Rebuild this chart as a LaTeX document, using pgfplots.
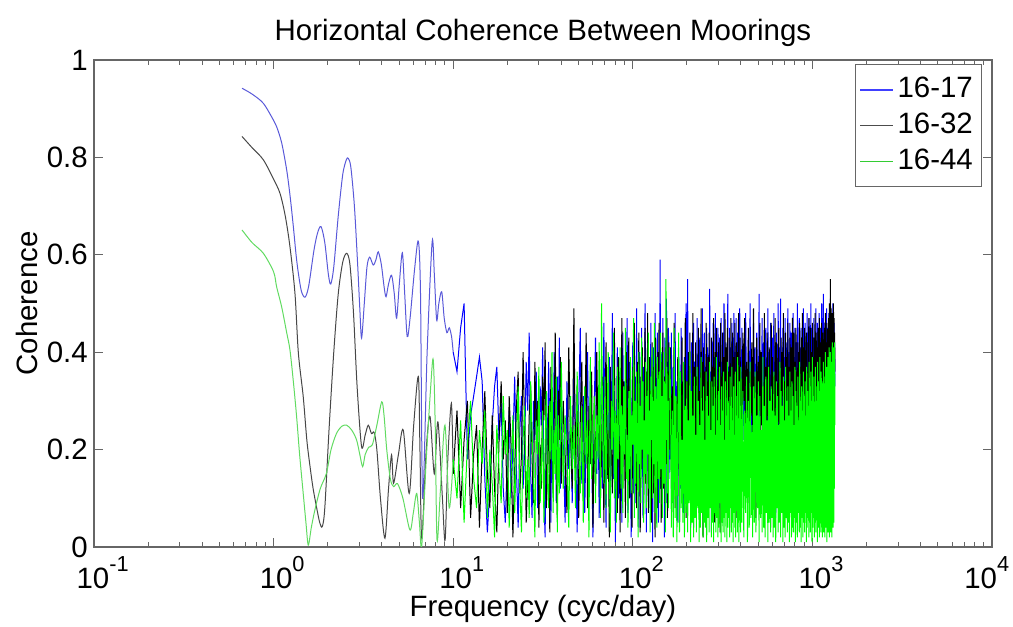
\documentclass[border=0pt]{standalone}
\usepackage{fontspec}
\setmainfont{Liberation Sans}
\usepackage{pgfplots}
\usepackage{pgfplotstable}
\pgfplotsset{compat=1.18}
\usetikzlibrary{calc}
\definecolor{sblue}{rgb}{0.35,0.35,0.85}
\definecolor{sblack}{rgb}{0.28,0.28,0.28}
\definecolor{sgreen}{rgb}{0.38,0.86,0.38}
\newcommand\tsup[1]{\raisebox{0.58em}{\fontsize{7.6}{8}\selectfont#1}}
\pgfplotstableread{
f b k g
10.0 0.40 0.15 0.18
10.5 0.36 0.28 0.10
11.0 0.45 0.08 0.26
11.5 0.50 0.22 0.05
12.0 0.18 0.30 0.21
12.5 0.27 0.06 0.30
13.0 0.31 0.19 0.14
13.5 0.35 0.25 0.08
14.0 0.39 0.04 0.24
14.5 0.34 0.20 0.17
15.0 0.14 0.32 0.28
15.5 0.03 0.15 0.06
16.0 0.12 0.08 0.20
16.5 0.25 0.27 0.13
17.0 0.33 0.12 0.02
17.5 0.37 0.03 0.25
18.0 0.22 0.22 0.16
18.5 0.30 0.34 0.09
19.0 0.12 0.18 0.31
19.5 0.05 0.26 0.19
20.0 0.18 0.07 0.24
20.5 0.28 0.31 0.04
21.0 0.10 0.21 0.15
21.5 0.21 0.02 0.27
22.0 0.35 0.16 0.07
22.5 0.16 0.29 0.20
23.0 0.04 0.36 0.33
23.5 0.24 0.11 0.12
24.0 0.31 0.19 0.03
24.5 0.12 0.40 0.22
25.0 0.20 0.24 0.29
25.5 0.38 0.05 0.10
26.0 0.28 0.14 0.18
26.5 0.44 0.27 0.06
27.0 0.15 0.33 0.34
27.5 0.06 0.18 0.23
28.0 0.30 0.09 0.14
28.5 0.22 0.38 0.02
29.0 0.36 0.23 0.26
29.5 0.08 0.30 0.19
30.0 0.17 0.04 0.37
30.5 0.33 0.21 0.09
31.0 0.25 0.12 0.16
31.5 0.41 0.35 0.28
32.0 0.10 0.26 0.05
32.5 0.02 0.42 0.21
33.0 0.28 0.08 0.32
33.5 0.19 0.17 0.13
34.0 0.38 0.29 0.08
34.5 0.24 0.03 0.30
35.0 0.05 0.37 0.18
35.5 0.31 0.20 0.40
36.0 0.14 0.11 0.07
36.5 0.40 0.25 0.24
37.0 0.27 0.44 0.15
37.5 0.09 0.16 0.35
38.0 0.35 0.06 0.03
38.5 0.20 0.32 0.27
39.0 0.43 0.22 0.11
39.5 0.12 0.39 0.22
40.0 0.29 0.13 0.38
41 0.21 0.30 0.12
42 0.05 0.18 0.27
43 0.34 0.07 0.19
44 0.16 0.41 0.04
45 0.27 0.23 0.31
46 0.09 0.12 0.16
47 0.38 0.49 0.25
48 0.22 0.15 0.08
49 0.03 0.33 0.36
50 0.29 0.06 0.21
51 0.45 0.26 0.11
52 0.13 0.38 0.29
53 0.31 0.10 0.05
54 0.07 0.21 0.33
55 0.24 0.44 0.17
56 0.40 0.08 0.26
57 0.11 0.29 0.02
58 0.35 0.17 0.39
59 0.19 0.36 0.14
60 0.02 0.04 0.23
61 0.28 0.25 0.31
62 0.43 0.13 0.09
63 0.15 0.40 0.27
64 0.33 0.22 0.18
65 0.06 0.31 0.42
66 0.25 0.09 0.06
67 0.37 0.19 0.50
68 0.12 0.35 0.22
69 0.46 0.05 0.13
70 0.20 0.28 0.35
71 0.04 0.42 0.08
72 0.30 0.14 0.26
73 0.17 0.24 0.40
74 0.39 0.02 0.15
75 0.08 0.37 0.03
76 0.26 0.20 0.30
77 0.48 0.11 0.20
78 0.14 0.32 0.44
79 0.32 0.45 0.10
80 0.01 0.16 0.28
81 0.23 0.27 0.05
82 0.41 0.07 0.37
83 0.10 0.39 0.18
84 0.36 0.23 0.24
85 0.18 0.03 0.41
86 0.27 0.30 0.12
87 0.05 0.47 0.29
88 0.44 0.12 0.07
89 0.21 0.34 0.33
90 0.34 0.21 0.19
91 0.12 0.06 0.45
92 0.29 0.40 0.14
93 0.47 0.18 0.23
94 0.07 0.28 0.04
95 0.24 0.43 0.32
96 0.38 0.10 0.16
97 0.16 0.33 0.39
98 0.02 0.25 0.11
99 0.31 0.04 0.27
100 0.42 0.37 0.21
101 0.11 0.22 0.47
102 0.26 0.46 0.06
103 0.35 0.14 0.30
104 0.09 0.29 0.13
105 0.49 0.08 0.36
106 0.19 0.38 0.24
107 0.30 0.19 0.02
108 0.04 0.44 0.40
109 0.40 0.26 0.17
110 0.22 0.03 0.29
111 0.14 0.35 0.09
112 0.45 0.16 0.43
113 0.28 0.41 0.20
114 0.06 0.23 0.34
115 0.37 0.09 0.05
116 0.17 0.31 0.26
117 0.50 0.45 0.15
118 0.25 0.13 0.38
119 0.03 0.36 0.08
120 0.33 0.20 0.31
121 0.43 0.48 0.19
122 0.13 0.07 0.44
123 0.27 0.27 0.12
124 0.39 0.39 0.28
125 0.08 0.15 0.03
126 0.46 0.32 0.35
127 0.20 0.05 0.22
128 0.32 0.42 0.41
129 0.01 0.24 0.10
130 0.41 0.11 0.30
131 0.23 0.37 0.17
132 0.15 0.28 0.46
133 0.48 0.02 0.07
134 0.29 0.43 0.33
135 0.10 0.18 0.21
136 0.36 0.30 0.04
137 0.44 0.08 0.39
138 0.18 0.40 0.25
139 0.05 0.25 0.14
140 0.34 0.46 0.36
141 0.25 0.14 0.09
142 0.59 0.33 0.28
143 0.12 0.21 0.44
144 0.40 0.05 0.16
145 0.28 0.38 0.31
146 0.07 0.27 0.06
147 0.47 0.44 0.24
148 0.21 0.12 0.40
149 0.35 0.35 0.13
150 0.02 0.23 0.34
151 0.43 0.09 0.19
152 0.16 0.41 0.03
153 0.31 0.29 0.55
154 0.51 0.17 0.22
155 0.09 0.47 0.37
156 0.38 0.06 0.11
157 0.24 0.36 0.30
158 0.45 0.26 0.08
159 0.14 0.42 0.27
160 0.30 0.20 0.41
162 0.18 0.41 0.33
164 0.44 0.12 0.04
166 0.09 0.33 0.28
168 0.37 0.20 0.02
170 0.22 0.46 0.45
172 0.48 0.08 0.06
174 0.15 0.30 0.31
176 0.34 0.17 0.01
178 0.05 0.39 0.24
180 0.41 0.24 0.44
182 0.26 0.05 0.03
184 0.12 0.36 0.36
186 0.45 0.14 0.08
188 0.20 0.43 0.22
190 0.33 0.10 0.05
192 0.07 0.28 0.38
194 0.39 0.19 0.02
196 0.24 0.47 0.29
198 0.50 0.06 0.07
200 0.16 0.34 0.34
202 0.55 0.21 0.03
204 0.11 0.40 0.26
206 0.36 0.13 0.09
208 0.27 0.44 0.40
210 0.04 0.09 0.01
212 0.42 0.31 0.32
214 0.19 0.22 0.05
216 0.30 0.48 0.27
218 0.46 0.04 0.02
220 0.13 0.37 0.35
222 0.38 0.18 0.06
224 0.23 0.42 0.23
226 0.08 0.11 0.03
228 0.47 0.35 0.37
230 0.17 0.26 0.08
232 0.35 0.45 0.30
234 0.28 0.07 0.01
236 0.43 0.32 0.25
238 0.10 0.23 0.04
240 0.40 0.49 0.39
242 0.21 0.15 0.07
244 0.49 0.38 0.28
246 0.14 0.02 0.02
248 0.32 0.41 0.33
250 0.44 0.20 0.05
252 0.06 0.36 0.22
254 0.37 0.12 0.04
256 0.25 0.46 0.36
258 0.45 0.27 0.01
260 0.18 0.08 0.31
262 0.41 0.39 0.06
264 0.29 0.17 0.27
266 0.12 0.44 0.03
268 0.53 0.24 0.38
270 0.20 0.34 0.08
272 0.36 0.10 0.24
274 0.03 0.43 0.02
276 0.42 0.21 0.34
278 0.26 0.37 0.05
280 0.46 0.13 0.29
282 0.15 0.47 0.01
284 0.39 0.28 0.35
286 0.23 0.05 0.07
288 0.48 0.40 0.23
290 0.11 0.19 0.03
292 0.34 0.45 0.39
294 0.40 0.09 0.06
296 0.19 0.33 0.26
298 0.45 0.25 0.02
300 0.27 0.42 0.32
302 0.08 0.16 0.04
304 0.43 0.38 0.37
306 0.31 0.03 0.09
308 0.16 0.46 0.25
310 0.47 0.22 0.01
312 0.22 0.35 0.33
314 0.38 0.11 0.05
316 0.05 0.44 0.28
318 0.44 0.27 0.03
320 0.29 0.07 0.36
322 0.50 0.39 0.06
324 0.17 0.18 0.22
326 0.35 0.48 0.02
328 0.24 0.30 0.34
330 0.42 0.12 0.07
332 0.13 0.41 0.27
334 0.39 0.24 0.01
336 0.26 0.45 0.38
338 0.52 0.08 0.04
340 0.20 0.36 0.30
342 0.37 0.20 0.06
344 0.09 0.43 0.24
346 0.45 0.15 0.02
348 0.30 0.37 0.35
350 0.18 0.26 0.08
352 0.41 0.47 0.29
354 0.25 0.04 0.03
356 0.46 0.32 0.37
358 0.14 0.22 0.05
360 0.36 0.44 0.26
362 0.43 0.10 0.01
364 0.21 0.39 0.33
366 0.48 0.28 0.07
368 0.11 0.13 0.23
370 0.33 0.46 0.04
372 0.40 0.19 0.36
374 0.23 0.35 0.02
376 0.47 0.06 0.31
378 0.16 0.42 0.08
380 0.38 0.25 0.27
382 0.28 0.40 0.03
384 0.44 0.14 0.39
386 0.07 0.33 0.05
388 0.35 0.48 0.25
390 0.42 0.21 0.01
392 0.19 0.37 0.34
394 0.49 0.09 0.06
396 0.26 0.43 0.29
398 0.39 0.27 0.03
400 0.15 0.36 0.37
405 0.45 0.18 0.05
410 0.22 0.44 0.32
415 0.40 0.30 0.02
420 0.12 0.47 0.28
425 0.48 0.14 0.07
430 0.30 0.38 0.35
435 0.17 0.24 0.01
440 0.43 0.45 0.30
445 0.26 0.09 0.04
450 0.50 0.36 0.38
455 0.20 0.27 0.06
460 0.37 0.42 0.25
465 0.09 0.16 0.02
470 0.46 0.49 0.33
475 0.28 0.22 0.05
480 0.41 0.35 0.36
485 0.15 0.06 0.03
490 0.44 0.43 0.27
495 0.33 0.19 0.08
500 0.24 0.38 0.34
505 0.52 0.28 0.01
510 0.18 0.46 0.31
515 0.39 0.12 0.06
520 0.27 0.40 0.24
525 0.47 0.25 0.03
530 0.13 0.33 0.39
535 0.42 0.17 0.04
540 0.31 0.48 0.29
545 0.21 0.08 0.02
550 0.45 0.37 0.35
555 0.36 0.23 0.07
560 0.10 0.44 0.26
565 0.49 0.30 0.01
570 0.25 0.15 0.37
575 0.40 0.41 0.05
580 0.19 0.27 0.30
585 0.46 0.04 0.03
590 0.32 0.46 0.33
595 0.14 0.21 0.06
600 0.43 0.39 0.28
605 0.29 0.13 0.02
610 0.48 0.35 0.36
615 0.22 0.26 0.04
620 0.38 0.47 0.27
625 0.06 0.18 0.01
630 0.44 0.42 0.34
635 0.34 0.29 0.08
640 0.23 0.10 0.31
645 0.50 0.38 0.03
650 0.17 0.45 0.25
655 0.41 0.20 0.05
660 0.30 0.36 0.38
665 0.51 0.24 0.02
670 0.20 0.43 0.32
675 0.37 0.14 0.07
680 0.27 0.40 0.29
685 0.45 0.31 0.01
690 0.12 0.48 0.35
695 0.39 0.07 0.04
700 0.33 0.34 0.26
705 0.47 0.22 0.02
710 0.24 0.44 0.37
715 0.42 0.28 0.06
720 0.18 0.39 0.30
725 0.36 0.12 0.03
730 0.49 0.46 0.33
735 0.28 0.25 0.05
740 0.40 0.37 0.27
745 0.15 0.18 0.01
750 0.46 0.43 0.36
755 0.31 0.30 0.07
760 0.21 0.09 0.28
765 0.44 0.41 0.02
770 0.35 0.26 0.34
775 0.09 0.47 0.04
780 0.48 0.33 0.31
785 0.26 0.16 0.03
790 0.39 0.44 0.25
795 0.30 0.23 0.06
800 0.45 0.38 0.37
805 0.19 0.05 0.01
810 0.42 0.45 0.32
815 0.34 0.29 0.05
820 0.23 0.36 0.29
825 0.50 0.20 0.02
830 0.29 0.42 0.35
835 0.38 0.13 0.07
840 0.14 0.40 0.26
845 0.47 0.32 0.03
850 0.32 0.46 0.38
855 0.41 0.24 0.04
860 0.22 0.37 0.30
865 0.45 0.10 0.01
870 0.36 0.43 0.33
875 0.17 0.27 0.06
880 0.43 0.48 0.28
885 0.31 0.19 0.02
890 0.49 0.35 0.36
895 0.25 0.41 0.05
900 0.40 0.22 0.31
905 0.11 0.45 0.03
910 0.46 0.31 0.34
915 0.33 0.15 0.07
920 0.42 0.39 0.27
925 0.27 0.44 0.01
930 0.37 0.26 0.37
935 0.48 0.36 0.04
940 0.20 0.08 0.32
945 0.44 0.42 0.06
950 0.35 0.33 0.29
955 0.16 0.47 0.02
960 0.47 0.21 0.38
965 0.30 0.38 0.05
970 0.41 0.28 0.33
975 0.24 0.45 0.03
980 0.50 0.17 0.36
985 0.34 0.40 0.07
990 0.19 0.34 0.30
995 0.45 0.24 0.01
1000 0.38 0.46 0.39
1005 0.28 0.12 0.04
1010 0.43 0.39 0.31
1015 0.32 0.30 0.06
1020 0.47 0.43 0.35
1025 0.13 0.20 0.02
1030 0.40 0.37 0.28
1035 0.36 0.48 0.05
1040 0.26 0.27 0.37
1045 0.49 0.09 0.03
1050 0.34 0.44 0.33
1055 0.42 0.32 0.07
1060 0.21 0.41 0.30
1065 0.46 0.23 0.01
1070 0.38 0.36 0.38
1075 0.29 0.45 0.04
1080 0.44 0.18 0.34
1085 0.17 0.39 0.06
1090 0.48 0.29 0.32
1095 0.35 0.47 0.02
1100 0.41 0.25 0.39
1105 0.27 0.35 0.05
1110 0.45 0.14 0.29
1115 0.32 0.42 0.03
1120 0.23 0.33 0.36
1125 0.50 0.46 0.07
1130 0.39 0.21 0.34
1135 0.30 0.38 0.02
1140 0.47 0.28 0.31
1145 0.36 0.44 0.05
1150 0.52 0.17 0.38
1155 0.20 0.40 0.03
1160 0.43 0.31 0.35
1165 0.34 0.45 0.06
1170 0.26 0.24 0.30
1175 0.46 0.37 0.02
1180 0.38 0.48 0.40
1185 0.14 0.20 0.04
1190 0.44 0.42 0.33
1195 0.31 0.34 0.07
1200 0.49 0.26 0.37
1205 0.37 0.46 0.01
1210 0.24 0.39 0.34
1215 0.45 0.15 0.05
1220 0.33 0.43 0.39
1225 0.41 0.30 0.03
1230 0.19 0.47 0.32
1235 0.48 0.36 0.06
1240 0.36 0.22 0.41
1245 0.28 0.50 0.02
1250 0.45 0.38 0.36
1255 0.40 0.27 0.05
1260 0.51 0.55 0.40
1265 0.30 0.33 0.03
1270 0.43 0.49 0.38
1275 0.35 0.25 0.07
1280 0.47 0.44 0.34
1285 0.22 0.36 0.02
1290 0.40 0.48 0.42
1295 0.34 0.29 0.06
1300 0.50 0.45 0.39
1305 0.38 0.31 0.04
1310 0.44 0.50 0.41
1315 0.29 0.38 0.05
1320 0.46 0.47 0.40
1325 0.36 0.33 0.12
1330 0.42 0.44 0.42
1335 0.33 0.36 0.25
}\noisy
\begin{document}
\fontsize{10.3}{12.4}\selectfont
\begin{tikzpicture}
\begin{axis}[
  scale only axis,
  width=314.3pt, height=170.45pt,
  xmode=log, xmin=0.1, xmax=10000, ymin=0, ymax=1,
  xtick={0.1,1,10,100,1000,10000},
  xticklabels={10\tsup{-1},10\tsup{0},10\tsup{1},10\tsup{2},10\tsup{3},\makebox[0pt][r]{10\tsup{4}\hspace*{-3pt}}},
  ytick={0,0.2,0.4,0.6,0.8,1},
  yticklabels={0,0.2,0.4,0.6,0.8,1},
  tick align=inside,
  major tick length=3pt, minor tick length=1.7pt,
  axis line style={black!60},
  every tick/.style={black!60, line width=0.35pt},
  yticklabel style={inner sep=0pt, xshift=-2pt},
  xticklabel style={inner sep=0pt, yshift=-3pt, xshift=3pt},
  title={Horizontal Coherence Between Moorings},
  title style={yshift=-4.9pt},
  xlabel={Frequency (cyc/day)},
  ylabel={Coherence},
  xlabel style={inner sep=0pt, yshift=-2pt},
  ylabel style={inner sep=0pt, yshift=3pt},
  every axis plot/.append style={line width=0.35pt},
  legend style={at={(1,1)}, anchor=north east, xshift=-3.5pt, yshift=-1.4pt,
    draw=black!60, fill=white, inner xsep=1.5pt, inner ysep=3pt,
    nodes={inner sep=1.5pt}, row sep=0.8pt, font=\fontsize{10.3}{12.4}\selectfont},
  legend cell align=left,
  legend image post style={xscale=0.66},
]
\addlegendimage{color=blue!75!white, line width=0.5pt}
\addlegendentry{16-17}
\addlegendimage{color=black!70, line width=0.5pt}
\addlegendentry{16-32}
\addlegendimage{color=green!75!black!80!white, line width=0.5pt}
\addlegendentry{16-44}
\addplot[sblue, smooth, tension=0.5, forget plot] coordinates {(0.667,0.942)(0.759,0.930)(0.877,0.911)(1.000,0.876)(1.040,0.863)(1.109,0.830)(1.183,0.774)(1.236,0.720)(1.288,0.658)(1.334,0.600)(1.374,0.562)(1.429,0.525)(1.496,0.513)(1.567,0.535)(1.679,0.610)(1.758,0.645)(1.837,0.658)(1.928,0.625)(2.018,0.560)(2.080,0.540)(2.163,0.575)(2.291,0.680)(2.427,0.765)(2.541,0.795)(2.606,0.798)(2.692,0.780)(2.818,0.700)(2.938,0.580)(3.020,0.490)(3.090,0.429)(3.199,0.500)(3.311,0.575)(3.428,0.595)(3.589,0.579)(3.715,0.590)(3.828,0.606)(3.981,0.580)(4.121,0.535)(4.227,0.514)(4.365,0.540)(4.539,0.558)(4.699,0.520)(4.842,0.470)(5.012,0.540)(5.212,0.604)(5.370,0.520)(5.546,0.432)(5.754,0.470)(6.095,0.570)(6.397,0.628)(6.577,0.520)(6.761,0.100)(7.161,0.400)(7.638,0.627)(7.852,0.560)(8.091,0.466)(8.318,0.500)(8.630,0.524)(8.913,0.470)(9.226,0.440)(9.506,0.450)(9.795,0.432)(10.0,0.400)};
\addplot[blue, forget plot] table[x=f, y=b] {\noisy};
\addplot[sblack, smooth, tension=0.5, forget plot] coordinates {(0.667,0.843)(0.759,0.820)(0.877,0.795)(1.000,0.755)(1.086,0.726)(1.161,0.680)(1.233,0.617)(1.315,0.521)(1.374,0.398)(1.462,0.309)(1.531,0.220)(1.596,0.165)(1.660,0.120)(1.738,0.080)(1.807,0.050)(1.866,0.042)(1.928,0.080)(2.042,0.250)(2.163,0.400)(2.291,0.520)(2.427,0.585)(2.553,0.603)(2.661,0.580)(2.786,0.480)(2.917,0.330)(3.090,0.206)(3.236,0.230)(3.365,0.250)(3.508,0.233)(3.631,0.235)(3.758,0.200)(3.936,0.100)(4.169,0.018)(4.365,0.120)(4.539,0.189)(4.656,0.131)(4.955,0.190)(5.272,0.240)(5.689,0.110)(6.026,0.250)(6.397,0.350)(6.531,0.200)(6.683,0.018)(7.079,0.200)(7.430,0.268)(7.852,0.150)(8.222,0.257)(8.710,0.100)(9.016,0.014)(9.333,0.180)(9.772,0.295)(10.0,0.150)};
\addplot[black, forget plot] table[x=f, y=k] {\noisy};
\addplot[sgreen, smooth, tension=0.5, forget plot] coordinates {(0.667,0.651)(0.759,0.625)(0.877,0.603)(1.000,0.565)(1.040,0.534)(1.109,0.493)(1.183,0.440)(1.233,0.405)(1.288,0.340)(1.343,0.268)(1.396,0.190)(1.462,0.110)(1.514,0.050)(1.560,0.004)(1.622,0.040)(1.698,0.076)(1.820,0.120)(1.968,0.151)(2.089,0.200)(2.239,0.233)(2.399,0.248)(2.553,0.250)(2.723,0.240)(2.897,0.220)(3.020,0.190)(3.133,0.165)(3.236,0.190)(3.388,0.205)(3.548,0.210)(3.758,0.250)(4.000,0.298)(4.121,0.270)(4.266,0.200)(4.467,0.140)(4.656,0.124)(4.898,0.130)(5.248,0.100)(5.741,0.035)(5.998,0.070)(6.266,0.110)(6.486,0.050)(6.683,0.003)(7.079,0.180)(7.499,0.330)(7.745,0.384)(7.943,0.250)(8.128,0.014)(8.5,0.120)(9.0,0.250)(9.5,0.080)(10.0,0.180)};
\addplot[green, forget plot] table[x=f, y=g] {\noisy};
\end{axis}
\pgfresetboundingbox
\path[use as bounding box] ($(current axis.south west)+(-32.9pt,-28pt)$) rectangle ($(current axis.north east)+(7.35pt,21pt)$);
\end{tikzpicture}
\end{document}
